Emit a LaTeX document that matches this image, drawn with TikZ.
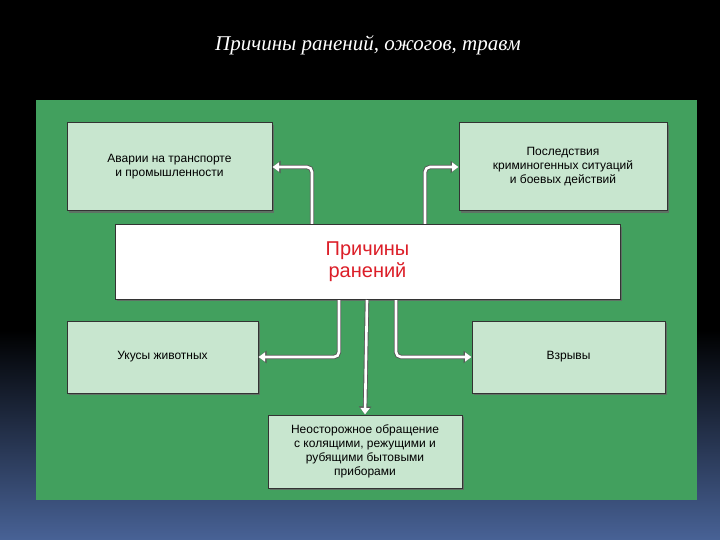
\documentclass[tikz,border=0pt]{standalone}
\usepackage{fontspec}
\setmainfont{Liberation Sans}
\newfontfamily\titlefont{Liberation Serif}
\usetikzlibrary{arrows.meta,shadows}
\definecolor{panel}{RGB}{66,160,94}
\definecolor{boxfill}{RGB}{200,230,207}
\definecolor{redtxt}{RGB}{220,30,40}
\tikzset{
 cbox/.style={draw=black!80,line width=1pt,fill=boxfill,align=center,font=\fontsize{12}{14}\selectfont,
   drop shadow={shadow xshift=2pt,shadow yshift=-2pt,fill=black!60,opacity=0.8},inner sep=2pt},
 arrout/.style={draw=black!65,line width=4.4pt,rounded corners=5pt,-{Triangle[length=8pt,width=12pt]}},
 arrin/.style={draw=white,line width=2.6pt,rounded corners=5pt,-{Triangle[length=6.5pt,width=9pt]}},
}
\begin{document}
\begin{tikzpicture}[x=1pt,y=-1pt]
\useasboundingbox (0,0) rectangle (720,540);
\fill[black] (0,0) rectangle (720,330);
\shade[top color=black,bottom color={rgb,255:red,72;green,98;blue,150}] (0,330) rectangle (720,540);
\node[text=white,font=\titlefont\itshape\fontsize{21}{24}\selectfont] (title) at (368,45) {Причины ранений, ожогов, травм};
\fill[panel] (36,100) rectangle (697,500);
\node[cbox,minimum width=205pt,minimum height=88pt] (tl) at (169.5,167) {Аварии на транспорте\\и промышленности};
\node[cbox,minimum width=208pt,minimum height=88pt] (tr) at (563,167) {Последствия\\криминогенных ситуаций\\и боевых действий};
\node[cbox,minimum width=191pt,minimum height=72pt] (bl) at (162.5,357) {Укусы животных};
\node[cbox,minimum width=193pt,minimum height=72pt] (br) at (568.5,357) {Взрывы};
\node[cbox,minimum width=194pt,minimum height=73pt] (bc) at (365,451.5) {Неосторожное обращение\\с колящими, режущими и\\рубящими бытовыми\\приборами};
\node[draw=black!80,line width=1pt,fill=white,minimum width=505pt,minimum height=74pt,align=center,
  text=redtxt,font=\fontsize{20}{22}\selectfont,
  drop shadow={shadow xshift=2pt,shadow yshift=-2pt,fill=black!60,opacity=0.8}] (c) at (367.5,262) {Причины\\ранений};
\foreach \s in {arrout,arrin}{
 \draw[\s] (312,224) |- (tl.east);
 \draw[\s] (425,224) |- (tr.west);
 \draw[\s] (339,300) |- (bl.east);
 \draw[\s] (396,300) |- (br.west);
 \draw[\s] (367,300) -- (bc.north);
}
\end{tikzpicture}
\end{document}
